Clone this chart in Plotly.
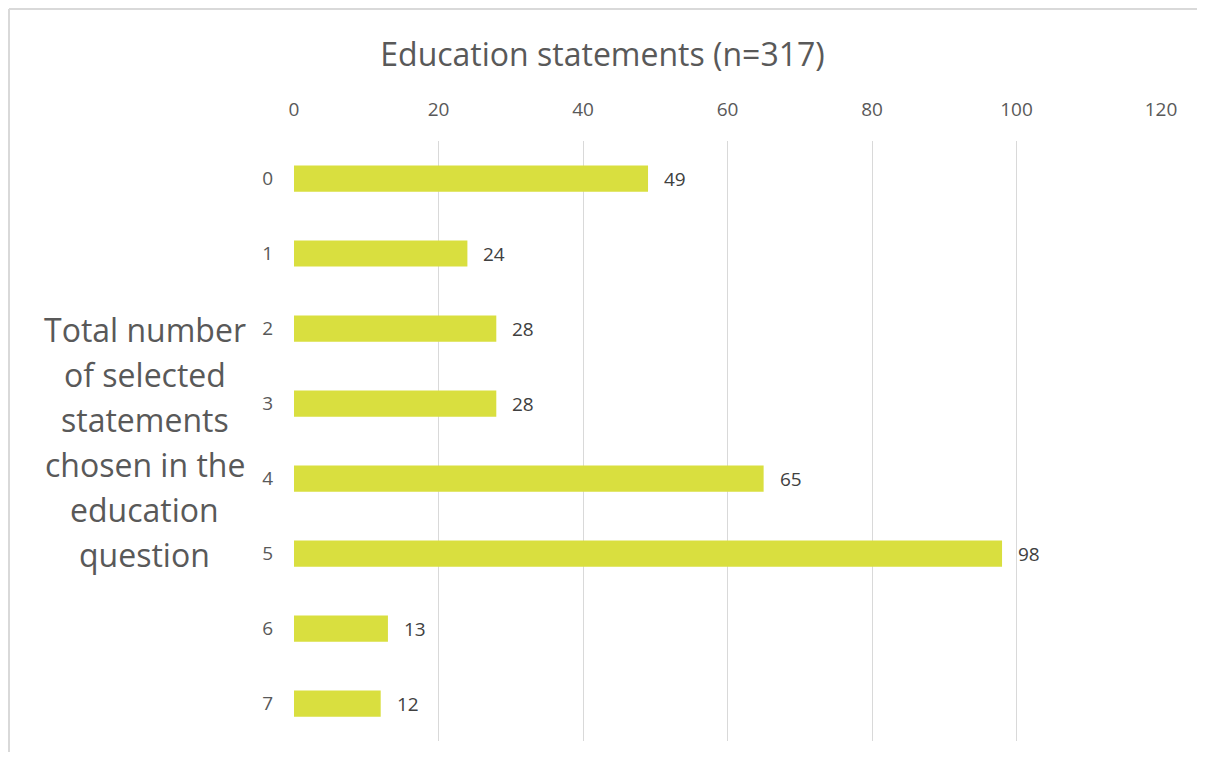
import plotly.graph_objects as go

# Dados
categorias = ["0", "1", "2", "3", "4", "5", "6", "7"]
valores = [49, 24, 28, 28, 65, 98, 13, 12]
ticks_x = [0, 20, 40, 60, 80, 100, 120]

titulo = "Education statements (n=317)"
linhas_titulo_y = ["Total number", "of selected", "statements",
                   "chosen in the", "education", "question"]

fonte = "Open Sans"
cor_texto = "#595959"
cor_barra = "#D9DF3F"
cor_grade = "#D9D9D9"

fig = go.Figure()

fig.add_trace(go.Bar(
    x=valores,
    y=categorias,
    orientation="h",
    width=0.35,
    marker=dict(color=cor_barra, line=dict(width=0)),
    hoverinfo="x+y",
))

# Rótulos de dados à direita das barras
for cat, v in zip(categorias, valores):
    fig.add_annotation(
        x=v, y=cat, text=str(v), showarrow=False,
        xanchor="left", xshift=14,
        font=dict(family=fonte, size=19, color="#404040"),
    )

# Título do eixo y (horizontal, à esquerda), uma linha por anotação
# para imitar o espaçamento entre linhas do original
n = len(linhas_titulo_y)
for i, linha in enumerate(linhas_titulo_y):
    fig.add_annotation(
        xref="paper", yref="paper", x=-0.172, y=0.498,
        yshift=(n - 1) / 2 * 45 - i * 45,
        text=linha, showarrow=False,
        xanchor="center", yanchor="middle",
        font=dict(family=fonte, size=32, color=cor_texto),
    )

# Moldura do gráfico (só esquerda e topo visíveis)
borda = dict(color="#D9D9D9", width=2)
fig.add_shape(type="line", xref="paper", yref="paper",
              x0=-0.3287, x1=-0.3287, y0=-0.1, y1=1.22, line=borda)
fig.add_shape(type="line", xref="paper", yref="paper",
              x0=-0.3287, x1=1.1, y0=1.22, y1=1.22, line=borda)

# A página tem margem de 8px, por isso a figura é um pouco menor
fig.update_layout(
    width=1189,
    height=744,
    margin=dict(l=286, r=36, t=133, b=11),
    paper_bgcolor="white",
    plot_bgcolor="white",
    showlegend=False,
    title=dict(
        text=titulo, x=0.5, xanchor="center", y=0.9365, yanchor="middle",
        font=dict(family=fonte, size=32, color=cor_texto),
    ),
    xaxis=dict(
        side="top",
        range=[0, 120],
        tickvals=ticks_x,
        showgrid=True,
        gridcolor=cor_grade,
        gridwidth=1,
        zeroline=False,
        showline=False,
        ticklabelstandoff=20,
        tickfont=dict(family=fonte, size=19, color=cor_texto),
    ),
    yaxis=dict(
        autorange="reversed",
        showgrid=False,
        zeroline=False,
        showline=False,
        ticklabelstandoff=20,
        tickfont=dict(family=fonte, size=19, color=cor_texto),
    ),
)

fig.write_html("out.html")
